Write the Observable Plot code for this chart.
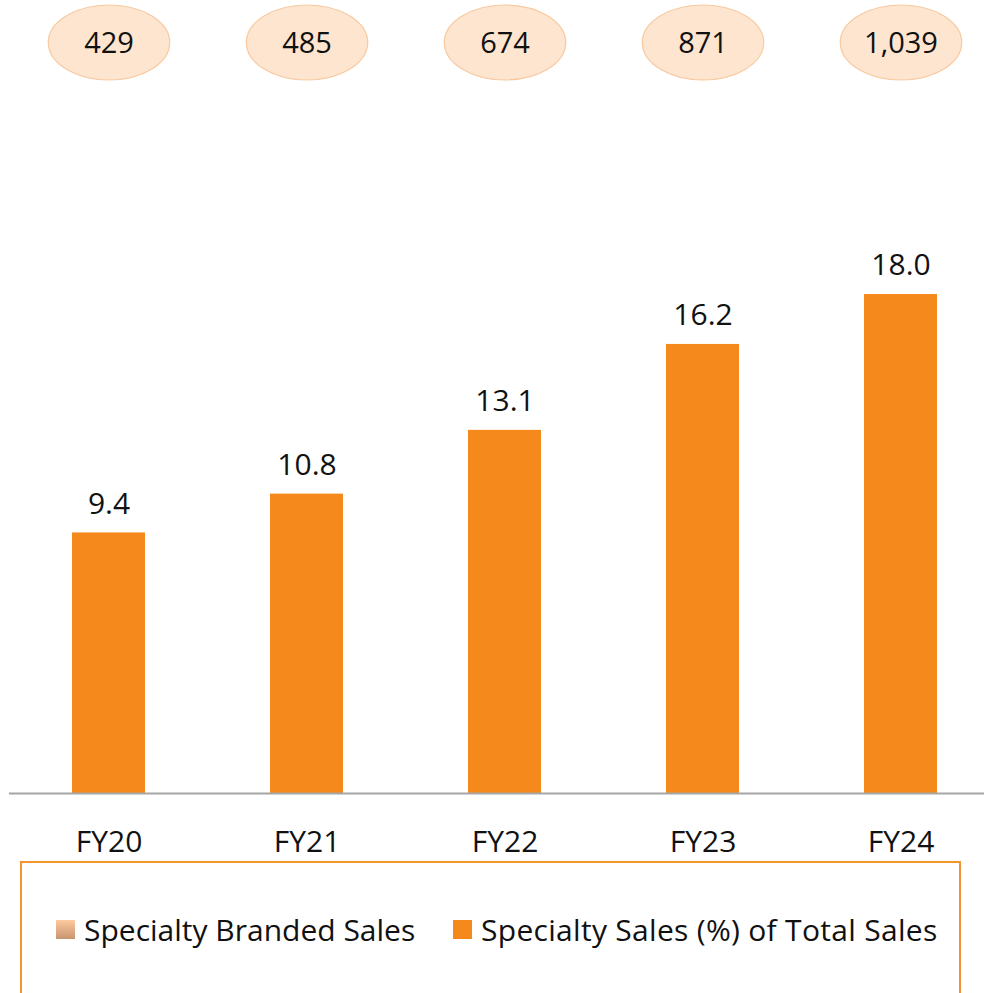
<!DOCTYPE html>
<html>
<head>
<meta charset="utf-8">
<script src="https://cdn.jsdelivr.net/npm/d3@7"></script>
<script src="https://cdn.jsdelivr.net/npm/@observablehq/plot@0.6"></script>
<style>
  html, body { margin: 0; padding: 0; background: #fff; }
  #wrap { position: relative; width: 984px; height: 993px; overflow: hidden; font-family: "Open Sans", sans-serif; }
  #legend { position: absolute; left: 20px; top: 861px; width: 941px; height: 160px; border: 2px solid #f5932e; box-sizing: border-box; }
  .item { position: absolute; top: 46px; display: flex; align-items: center; font-size: 30px; color: #111; white-space: nowrap; }
  .sw { width: 19px; height: 19px; margin-right: 9px; }
</style>
</head>
<body>
<div id="wrap"></div>
<script>
const years = ["FY20", "FY21", "FY22", "FY23", "FY24"];
const specialtyPct = [9.4, 10.8, 13.1, 16.2, 18.0];
const brandedSales = [429, 485, 674, 871, 1039];
const seriesNames = ["Specialty Branded Sales", "Specialty Sales (%) of Total Sales"];

const data = years.map((y, i) => ({year: y, pct: specialtyPct[i], branded: brandedSales[i]}));

// custom ellipse symbol for Plot.dot
const ellipse = {
  draw(ctx, size) {
    const r = Math.sqrt(size / Math.PI);
    const rx = r * 1.62, ry = r, k = 0.5523;
    ctx.moveTo(rx, 0);
    ctx.bezierCurveTo(rx, ry * k, rx * k, ry, 0, ry);
    ctx.bezierCurveTo(-rx * k, ry, -rx, ry * k, -rx, 0);
    ctx.bezierCurveTo(-rx, -ry * k, -rx * k, -ry, 0, -ry);
    ctx.bezierCurveTo(rx * k, -ry, rx, -ry * k, rx, 0);
    ctx.closePath();
  }
};

const fmt = d3.format(",");
const H = 860;

const chart = Plot.plot({
  width: 984,
  height: H,
  marginLeft: 9,
  marginRight: 0,
  marginTop: 0,
  marginBottom: 0,
  style: {fontFamily: "Open Sans, sans-serif", background: "white", overflow: "visible"},
  x: {domain: years, range: [9, 1000], paddingInner: 0.63, paddingOuter: 0.315, label: null},
  y: {domain: [0, 20], range: [793, 793 - 27.72 * 20], axis: null},
  marks: [
    Plot.barY(data, {x: "year", y: "pct", fill: "#f5891b"}),
    Plot.ruleY([0], {stroke: "#a6a6a6", strokeWidth: 2}),
    Plot.text(data, {x: "year", y: "pct", text: d => d.pct.toFixed(1), dy: -29, fontSize: 30, fill: "#111"}),
    Plot.axisX({tickSize: 0, tickPadding: 0, dy: 37, fontSize: 30, fill: "#111", anchor: "bottom", y: 0}),
    Plot.dot(data, {x: "year", frameAnchor: "top", dy: 42, r: 37.5, symbol: ellipse, fill: "#fde5cf", stroke: "#f8c9a0", strokeWidth: 1.2}),
    Plot.text(data, {x: "year", frameAnchor: "top", dy: 32, text: d => fmt(d.branded), fontSize: 29, fill: "#111"})
  ]
});

const wrap = document.getElementById("wrap");
wrap.appendChild(chart);

const legend = document.createElement("div");
legend.id = "legend";
legend.innerHTML = `
  <div class="item" style="left:34px"><span class="sw" style="background:linear-gradient(#fdc99d,#c99470)"></span>${seriesNames[0]}</div>
  <div class="item" style="left:431px;letter-spacing:0.3px"><span class="sw" style="background:#f5891b"></span>${seriesNames[1]}</div>`;
wrap.appendChild(legend);
</script>
</body>
</html>
